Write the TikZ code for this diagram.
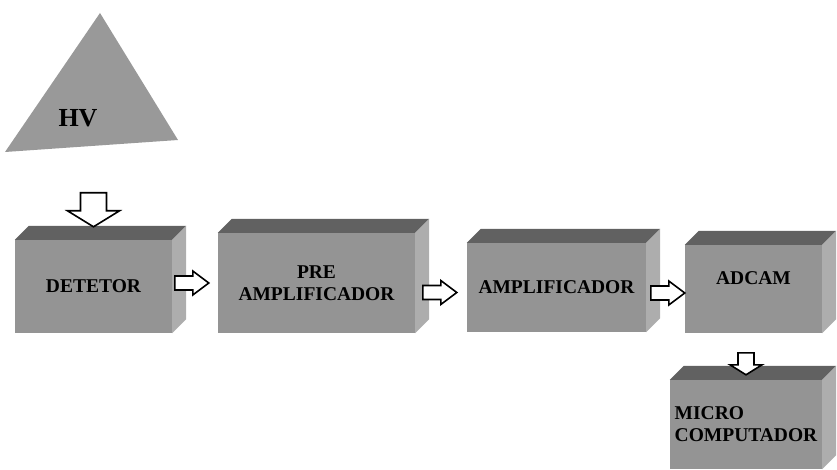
\documentclass[tikz,border=0pt]{standalone}
\usepackage{fontspec}
\setmainfont{Liberation Serif}

\begin{document}
\begin{tikzpicture}[
        x=1pt, y=-1pt,
        box/.style 2 args={fill=black!42, minimum width=#1, minimum height=#2, inner sep=0pt,
            align=center, font=\fontsize{19.5}{22}\selectfont\bfseries},
        topface/.style={fill=black!62},
        sideface/.style={fill=black!32},
        arrowline/.style={draw, fill=white, line width=1.6pt, line join=miter},
        harrow/.style n args={4}{arrowline, to path={(\tikztotarget) -- ++(-#2,-#3) -- ++(0,{#3-#4})
            -- ++({#2-#1},0) -- ++(0,{2*#4}) -- ++({#1-#2},0) -- ++(0,{#3-#4}) -- cycle}},
        varrow/.style n args={4}{arrowline, to path={(\tikztotarget) -- ++(-#3,-#2) -- ++({#3-#4},0)
            -- ++(0,{#2-#1}) -- ++({2*#4},0) -- ++(0,{#1-#2}) -- ++({#3-#4},0) -- cycle}}
    ]
    \useasboundingbox (0,0) rectangle (837,470);

    % front faces
    \node[box={157}{93}] (det) at (93.5,286.5) {DETETOR};
    \node[box={197}{100}] (pre) at (316.5,283) {PRE\\AMPLIFICADOR};
    \node[box={179}{89}] (amp) at (556.5,287.5) {AMPLIFICADOR};
    \node[box={137}{88}, text depth=22pt] (adc) at (753.5,289) {ADCAM};
    \node[box={152}{89}, align=left] (mic) at (746,424.5) {MICRO\\COMPUTADOR};

    % top and side faces
    \foreach \n in {det,pre,amp,adc,mic}{
        \fill[topface] (\n.north west) -- ++(14,-14) -- ([shift={(14,-14)}]\n.north east) -- (\n.north east) -- cycle;
        \fill[sideface] (\n.north east) -- ++(14,-14) -- ([shift={(14,-14)}]\n.south east) -- (\n.south east) -- cycle;
    }

    % HV source
    \fill[black!40] (100,13) -- (178,140) -- (5,152) -- cycle;
    \node[font=\fontsize{26}{28}\selectfont\bfseries, inner sep=0pt] (hv) at (78,118) {HV};

    \draw[varrow={34}{16}{26}{13}] (hv) to ([yshift=13pt]det.north);
    \draw[harrow={34}{16}{12}{7}] (det) to ([xshift=-9pt]pre.west);
    \draw[harrow={34}{16}{12}{7}] (pre) to ([xshift=-10pt,yshift=-5pt]amp.west);
    \draw[harrow={34}{16}{12}{7}] (amp) to ([yshift=-4pt]adc.west);
    \draw[varrow={22}{10}{16}{8}] (adc) to ([yshift=5pt]mic.north);
\end{tikzpicture}
\end{document}
